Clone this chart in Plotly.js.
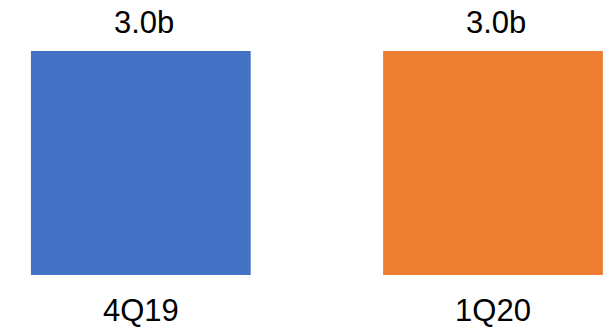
<!DOCTYPE html>
<html>
<head>
<meta charset="utf-8">
<script src="https://cdn.plot.ly/plotly-3.0.1.min.js"></script>
<style>html,body{margin:0;padding:0;background:#fff;}#chart{width:605px;height:327px;}</style>
</head>
<body>
<div id="chart"></div>
<script>
const categories = ["4Q19", "1Q20"];
const values = [3.0, 3.0];
const valueLabels = ["3.0b", "3.0b"];
const barColors = ["#4472C4", "#ED7D31"];

const trace = {
  type: "bar",
  x: categories,
  y: values,
  marker: {color: barColors},
  width: 0.624,
  hoverinfo: "none"
};

const annotations = categories.map((c, i) => ({
  x: c, y: values[i], xref: "x", yref: "y",
  text: valueLabels[i], showarrow: false,
  yanchor: "bottom", yshift: 9, xshift: 3,
  font: {family: "Liberation Sans, Arial, sans-serif", size: 31, color: "#000"}
}));

const layout = {
  width: 605, height: 327,
  margin: {l: 0, r: 0, t: 51, b: 52},
  paper_bgcolor: "#fff", plot_bgcolor: "#fff",
  showlegend: false,
  xaxis: {
    type: "category",
    range: [-0.3998, 1.318],
    showgrid: false, zeroline: false, showline: false, ticks: "",
    ticklabelstandoff: 14,
    tickfont: {family: "Liberation Sans, Arial, sans-serif", size: 31, color: "#000"}
  },
  yaxis: {
    range: [0, 3], visible: false, showgrid: false, zeroline: false
  },
  annotations: annotations
};

Plotly.newPlot("chart", [trace], layout, {staticPlot: true, displayModeBar: false});
</script>
</body>
</html>
